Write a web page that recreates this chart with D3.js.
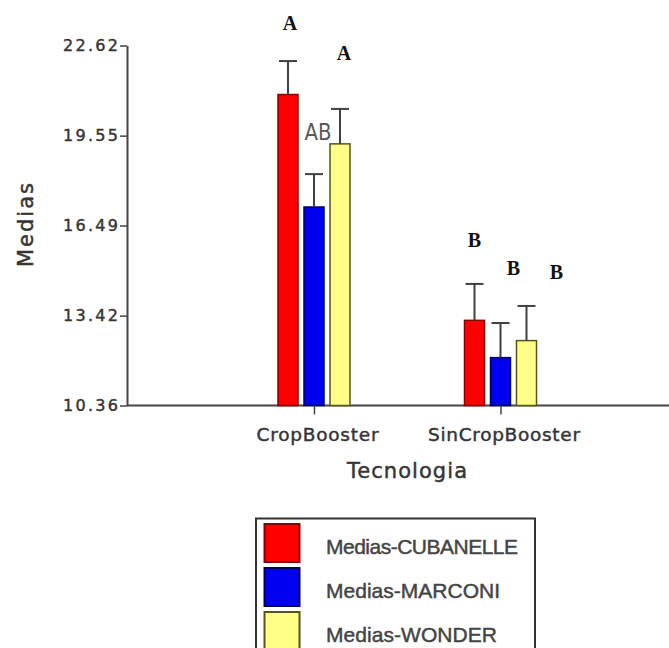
<!DOCTYPE html>
<html>
<head>
<meta charset="utf-8">
<script src="https://cdn.jsdelivr.net/npm/d3@7"></script>
<style>
  html, body { margin: 0; padding: 0; background: #fff; }
  svg { display: block; }
</style>
</head>
<body>
<div id="chart"></div>
<script>
// ---------- data ----------
const categories = ["CropBooster", "SinCropBooster"];
const series = ["CUBANELLE", "MARCONI", "WONDER"];
const cubanelleMeans = [20.95, 13.26];
const cubanelleErr = [1.14, 1.24];
const marconiMeans = [17.12, 11.99];
const marconiErr = [1.12, 1.18];
const wonderMeans = [19.27, 12.57];
const wonderErr = [1.19, 1.18];
const yTickValues = [10.36, 13.42, 16.49, 19.55, 22.62];
const xTitle = "Tecnologia";
const yTitle = "Medias";
const legendPrefix = "Medias-";
// significance letters per category (one per series) and their heights (data units)
const cropLetters = ["A", "AB", "A"];
const sinLetters = ["B", "B", "B"];
const cropLetterLevels = [23.15, 19.40, 22.13];
const sinLetterLevels = [15.76, 14.80, 14.67];

// ---------- styling / layout ----------
const W = 669, H = 648;
const fills = ["#ff0000", "#0000f0", "#ffff88"];
const strokes = ["#8a0000", "#00005a", "#55551c"];
const letterDx = [[2, 4, 4], [0, 13, 30]];
const textColor = "#353535";
const axisColor = "#454545";

const meansBySeries = [cubanelleMeans, marconiMeans, wonderMeans];
const errBySeries = [cubanelleErr, marconiErr, wonderErr];
const lettersByCat = [cropLetters, sinLetters];
const levelsByCat = [cropLetterLevels, sinLetterLevels];

const rows = [];
categories.forEach((c, ci) => {
  series.forEach((s, si) => {
    rows.push({
      cat: c, ci, ser: s, si,
      v: meansBySeries[si][ci],
      e: errBySeries[si][ci],
      letter: lettersByCat[ci][si],
      level: levelsByCat[ci][si]
    });
  });
});

const svg = d3.select("#chart").append("svg")
  .attr("width", W).attr("height", H);

const y = d3.scaleLinear().domain([10.36, 22.62]).range([405.5, 45.5]);
const x0 = d3.scalePoint().domain(categories).range([314, 500.5]);
const x1 = d3.scaleBand().domain(series).range([-36, 36]).paddingInner(6 / 26);
const bw = x1.bandwidth();

function heavy(sel, color) {
  sel.attr("fill", color).attr("stroke", color).attr("stroke-width", 0.45);
}

// x axis line
svg.append("line")
  .attr("x1", 127).attr("x2", W)
  .attr("y1", y(10.36)).attr("y2", y(10.36))
  .attr("stroke", axisColor).attr("stroke-width", 2);

// bars
svg.append("g").selectAll("rect").data(rows).join("rect")
  .attr("x", d => x0(d.cat) + x1(d.ser))
  .attr("y", d => y(d.v))
  .attr("width", bw)
  .attr("height", d => y(10.36) - y(d.v))
  .attr("fill", d => fills[d.si])
  .attr("stroke", d => strokes[d.si])
  .attr("stroke-width", 1.5);

// error bars
const eg = svg.append("g").attr("stroke", "#404040").attr("stroke-width", 2);
eg.selectAll("line.v").data(rows).join("line").attr("class", "v")
  .attr("x1", d => x0(d.cat) + x1(d.ser) + bw / 2)
  .attr("x2", d => x0(d.cat) + x1(d.ser) + bw / 2)
  .attr("y1", d => y(d.v))
  .attr("y2", d => y(d.v + d.e));
eg.selectAll("line.c").data(rows).join("line").attr("class", "c")
  .attr("x1", d => x0(d.cat) + x1(d.ser) + 1)
  .attr("x2", d => x0(d.cat) + x1(d.ser) + bw - 1)
  .attr("y1", d => y(d.v + d.e))
  .attr("y2", d => y(d.v + d.e));

// significance letters
svg.append("g").selectAll("text").data(rows).join("text")
  .attr("x", d => x0(d.cat) + x1(d.ser) + bw / 2 + letterDx[d.ci][d.si])
  .attr("y", d => y(d.level))
  .attr("text-anchor", "middle")
  .each(function (d) {
    const t = d3.select(this);
    if (d.letter.length > 1) {
      t.attr("font-family", "'Liberation Sans Narrow', 'DejaVu Sans Condensed', sans-serif")
        .attr("font-size", 23).attr("fill", "#5a5a5a")
        .attr("textLength", 27).attr("lengthAdjust", "spacingAndGlyphs");
    } else {
      t.attr("font-family", "'Liberation Serif', 'DejaVu Serif', serif")
        .attr("font-weight", "bold").attr("font-size", 20).attr("fill", "#111");
    }
  })
  .text(d => d.letter);

// y axis
const yAxis = svg.append("g").attr("transform", "translate(127,0)")
  .call(d3.axisLeft(y).tickValues(yTickValues).tickFormat(d3.format(".2f"))
    .tickSize(7).tickSizeOuter(0).tickPadding(2));
yAxis.select(".domain").attr("stroke", axisColor).attr("stroke-width", 2);
yAxis.selectAll(".tick line").attr("stroke", axisColor).attr("stroke-width", 1.5);
yAxis.selectAll(".tick text")
  .attr("font-family", "'DejaVu Sans', sans-serif").attr("font-size", 16)
  .attr("textLength", 55)
  .call(heavy, textColor);

// x axis ticks + labels
const xLabelWidths = { "CropBooster": 122, "SinCropBooster": 152 };
const xAxis = svg.append("g").attr("transform", `translate(0,${y(10.36)})`)
  .call(d3.axisBottom(x0).tickSize(9).tickPadding(13.4));
xAxis.select(".domain").remove();
xAxis.selectAll(".tick line").attr("stroke", axisColor).attr("stroke-width", 1.5);
xAxis.selectAll(".tick text")
  .attr("font-family", "'DejaVu Sans', sans-serif").attr("font-size", 18.5)
  .attr("dx", 3)
  .attr("textLength", d => xLabelWidths[d])
  .call(heavy, textColor);

// axis titles
svg.append("text")
  .attr("x", 407).attr("y", 478).attr("text-anchor", "middle")
  .attr("font-family", "'DejaVu Sans', sans-serif").attr("font-size", 21)
  .attr("textLength", 120)
  .call(heavy, textColor)
  .text(xTitle);
svg.append("text")
  .attr("transform", "translate(33,225) rotate(-90)")
  .attr("text-anchor", "middle")
  .attr("font-family", "'DejaVu Sans', sans-serif").attr("font-size", 21)
  .attr("textLength", 84)
  .call(heavy, textColor)
  .text(yTitle);

// legend
const lg = svg.append("g");
lg.append("rect").attr("x", 256).attr("y", 518.5).attr("width", 279).attr("height", 160)
  .attr("fill", "#fff").attr("stroke", "#333").attr("stroke-width", 2);
const legendRowY = d3.scalePoint().domain(series).range([524, 612]);
const legendWidths = [192, 174, 171];
series.forEach((s, i) => {
  lg.append("rect").attr("x", 264.5).attr("y", legendRowY(s))
    .attr("width", 35).attr("height", 38)
    .attr("fill", fills[i]).attr("stroke", strokes[i]).attr("stroke-width", 2);
  lg.append("text").attr("x", 326).attr("y", legendRowY(s) + 30)
    .attr("font-family", "'Liberation Sans', Arial, sans-serif").attr("font-size", 21)
    .attr("textLength", legendWidths[i])
    .call(heavy, "#444")
    .text(legendPrefix + s);
});
</script>
</body>
</html>
